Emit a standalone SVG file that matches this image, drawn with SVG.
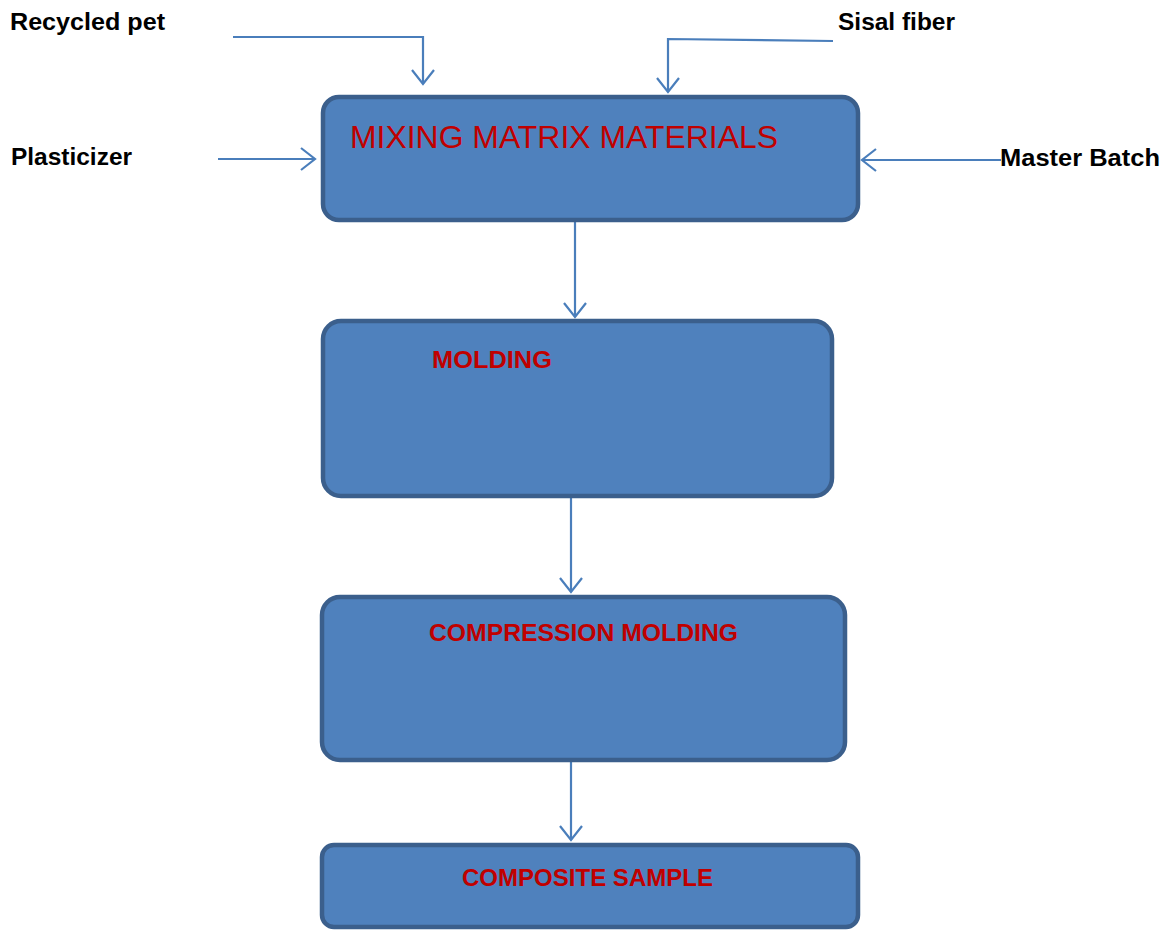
<svg xmlns="http://www.w3.org/2000/svg" width="1166" height="930" viewBox="0 0 1166 930">
<style>
.box{fill:#4f81bd;stroke:#3b5f8c;stroke-width:4.5}
.lbl{font-family:"Liberation Sans",Arial,sans-serif;font-weight:bold;font-size:23.5px;fill:#000}
.red{font-family:"Liberation Sans",Arial,sans-serif;font-weight:bold;font-size:24px;fill:#c00000}
.redr{font-family:"Liberation Sans",Arial,sans-serif;font-size:32px;fill:#c00000}
.con{fill:none;stroke:#4a7ebb;stroke-width:2.2;marker-end:url(#ah)}
</style>
<defs>
<marker id="ah" markerWidth="22" markerHeight="24" refX="16" refY="12" orient="auto" markerUnits="userSpaceOnUse">
<path d="M2,1 L16,12 L2,23" fill="none" stroke="#4a7ebb" stroke-width="2.2"/>
</marker>
</defs>
<rect width="1166" height="930" fill="#fff"/>
<g id="connectors">
<path class="con" d="M233,37 L423,37 L423,84"/>
<path class="con" d="M833,41 L668,39 L668,92"/>
<path class="con" d="M218,159 L315,159"/>
<path class="con" d="M1001,160 L862,160"/>
<path class="con" d="M575,220 L575,317"/>
<path class="con" d="M571,496 L571,592"/>
<path class="con" d="M571,760 L571,840"/>
</g>
<g id="label-recycled"><text class="lbl" x="10" y="30" textLength="155" lengthAdjust="spacingAndGlyphs">Recycled pet</text></g>
<g id="label-sisal"><text class="lbl" x="838" y="30" textLength="117" lengthAdjust="spacingAndGlyphs">Sisal fiber</text></g>
<g id="label-plasticizer"><text class="lbl" x="11" y="165" textLength="121" lengthAdjust="spacingAndGlyphs">Plasticizer</text></g>
<g id="label-masterbatch"><text class="lbl" x="1000" y="166" textLength="160" lengthAdjust="spacingAndGlyphs">Master Batch</text></g>
<g id="node-mixing">
<rect class="box" x="323" y="97" width="535" height="123" rx="16"/>
<text class="redr" x="350" y="148" textLength="428" lengthAdjust="spacingAndGlyphs">MIXING MATRIX MATERIALS</text>
</g>
<g id="node-molding">
<rect class="box" x="323" y="321" width="509" height="175" rx="18"/>
<text class="red" x="432" y="368" textLength="120" lengthAdjust="spacingAndGlyphs">MOLDING</text>
</g>
<g id="node-compression">
<rect class="box" x="322" y="597" width="523" height="163" rx="18"/>
<text class="red" x="429" y="641" textLength="309" lengthAdjust="spacingAndGlyphs">COMPRESSION MOLDING</text>
</g>
<g id="node-composite">
<rect class="box" x="322" y="845" width="536" height="82" rx="12"/>
<text class="red" x="462" y="886" textLength="251" lengthAdjust="spacingAndGlyphs">COMPOSITE SAMPLE</text>
</g>
</svg>
